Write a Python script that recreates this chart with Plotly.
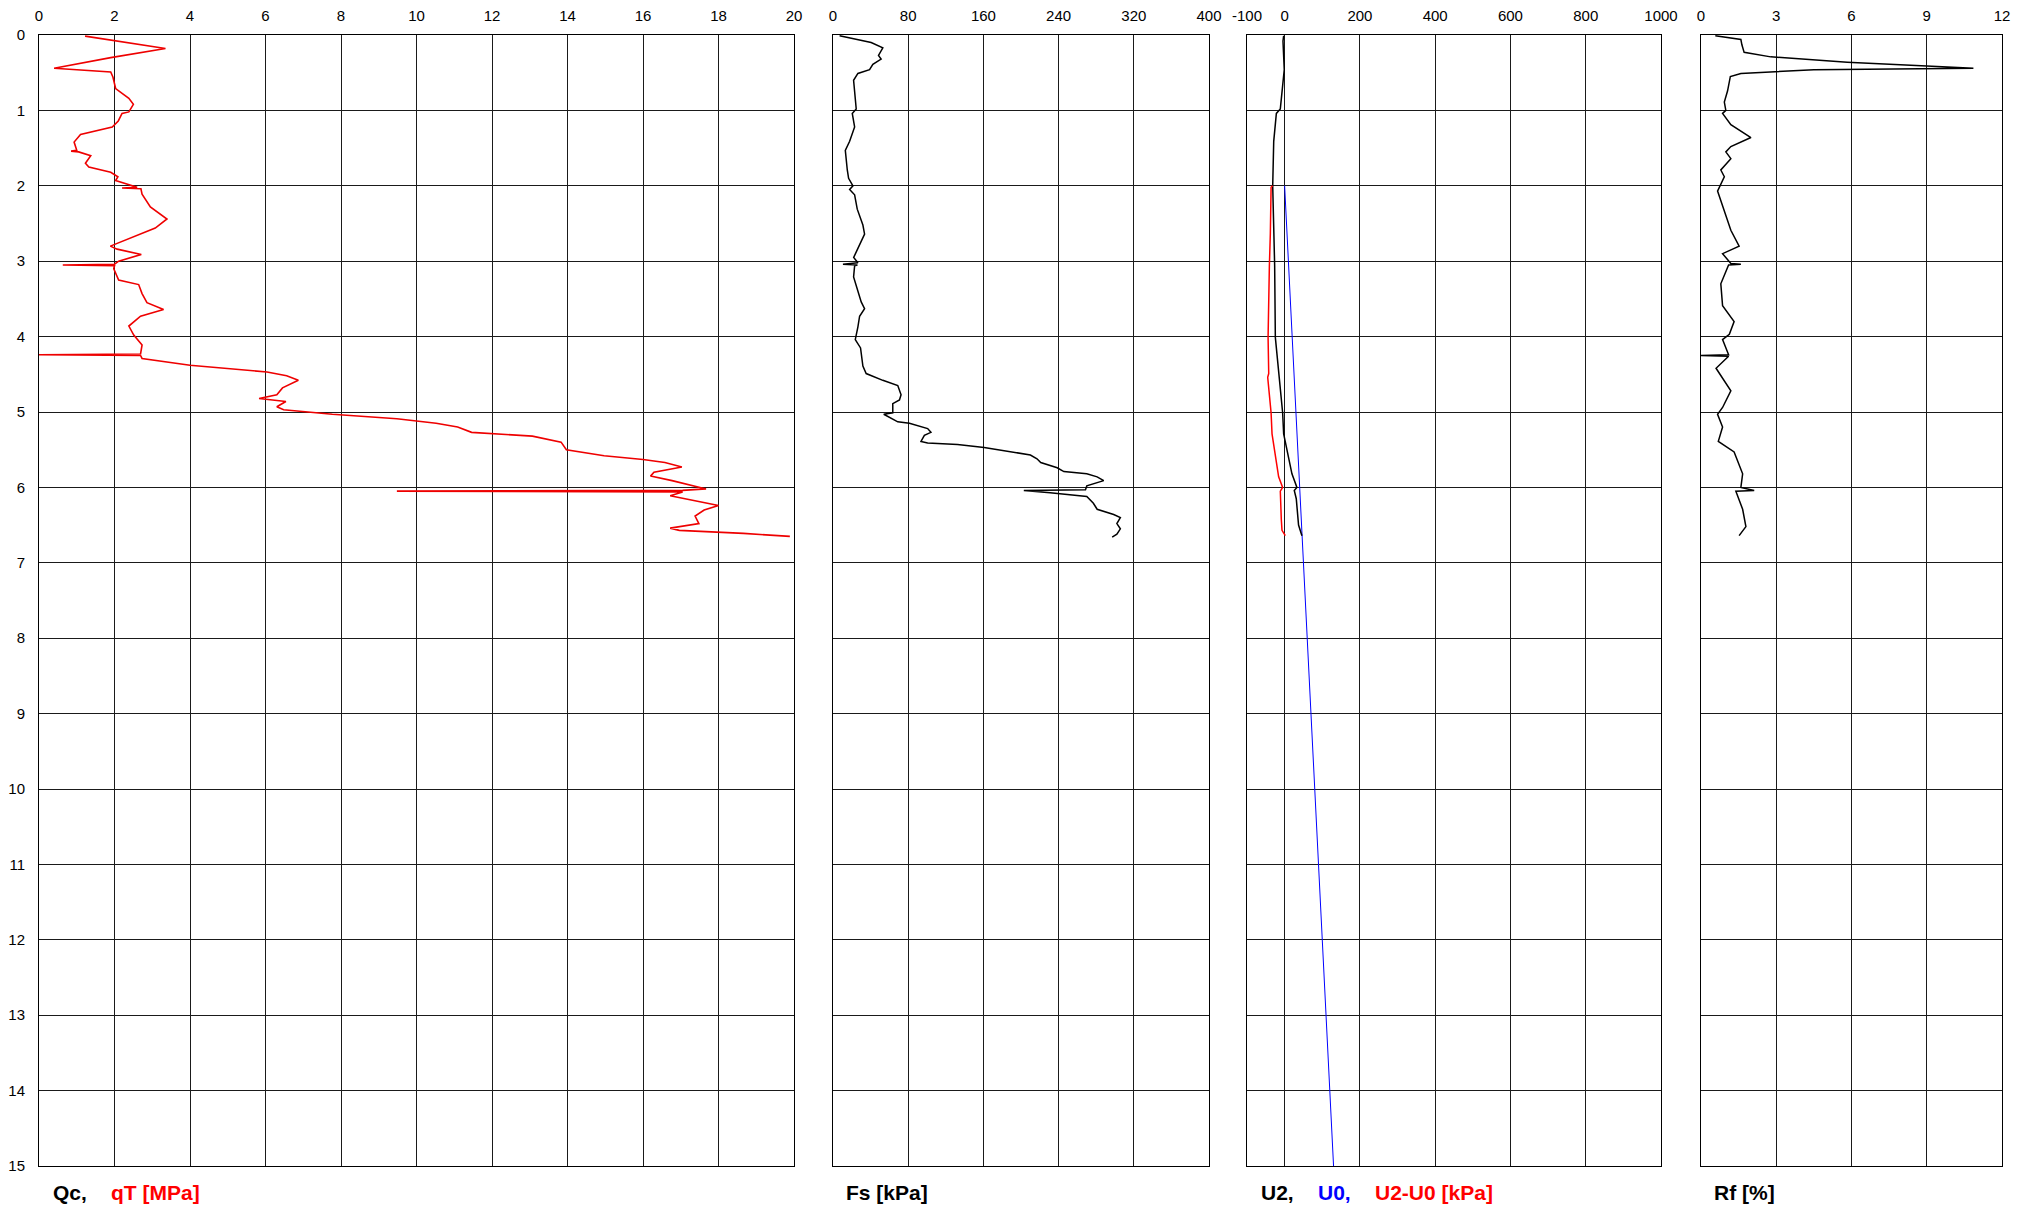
import plotly.graph_objects as go

# ---------------- data ----------------
# Cone resistance qT [MPa] vs depth [m]
qt_depth = [0.015, 0.18, 0.30, 0.44, 0.49, 0.56, 0.71, 0.84, 0.92, 1.02, 1.04, 1.14, 1.22, 1.32, 1.42,
            1.53, 1.54, 1.55, 1.60, 1.70, 1.75, 1.82, 1.88, 1.93, 2.02, 2.03, 2.04, 2.11, 2.28, 2.44, 2.56,
            2.64, 2.80, 2.84, 2.91, 3.00, 3.04, 3.05, 3.06, 3.10, 3.25, 3.31, 3.43, 3.55, 3.64, 3.73,
            3.86, 3.98, 4.11, 4.23, 4.24, 4.25, 4.29, 4.38, 4.47, 4.52, 4.58, 4.68, 4.77, 4.82, 4.86,
            4.93, 4.97, 5.03, 5.09, 5.15, 5.20, 5.27, 5.32, 5.40, 5.50, 5.58, 5.63, 5.67, 5.73, 5.80,
            5.85, 5.91, 6.02, 6.04, 6.05, 6.06, 6.11, 6.24, 6.30, 6.38, 6.48, 6.54, 6.57, 6.61, 6.65]
qt_value = [1.22, 3.35, 1.90, 0.40, 1.90, 1.96, 2.03, 2.38, 2.50, 2.38, 2.20, 2.10, 1.94, 1.10, 0.93,
            1.00, 0.85, 1.05, 1.37, 1.23, 1.32, 1.90, 2.09, 2.03, 2.60, 2.20, 2.70, 2.73, 2.95, 3.39, 3.08,
            2.69, 1.89, 2.07, 2.71, 2.11, 2.00, 0.63, 2.00, 1.98, 2.11, 2.64, 2.73, 2.86, 3.30, 2.69,
            2.38, 2.51, 2.73, 2.69, 0.00, 2.69, 2.73, 4.00, 6.04, 6.56, 6.87, 6.45, 6.30, 5.83, 6.54,
            6.30, 6.48, 7.77, 9.48, 10.52, 11.09, 11.46, 13.07, 13.83, 13.97, 14.97, 16.00, 16.58, 17.03, 16.29,
            16.20, 16.77, 17.67, 17.05, 9.48, 17.05, 16.72, 18.00, 17.62, 17.38, 17.48, 16.72, 16.96, 18.66, 19.89]

# Sleeve friction Fs [kPa]
fs_depth = [0.01, 0.10, 0.17, 0.22, 0.27, 0.32, 0.39, 0.46, 0.51, 0.60, 0.74, 0.98, 1.04, 1.22, 1.41,
            1.53, 1.79, 1.90, 2.00, 2.05, 2.12, 2.31, 2.52, 2.64, 2.83, 2.95, 3.02, 3.04, 3.05, 3.06,
            3.21, 3.40, 3.54, 3.63, 3.73, 3.87, 4.04, 4.15, 4.39, 4.49, 4.58, 4.65, 4.77, 4.84, 4.89,
            5.01, 5.03, 5.13, 5.15, 5.22, 5.27, 5.31, 5.39, 5.41, 5.43, 5.47, 5.54, 5.57, 5.62, 5.67,
            5.74, 5.79, 5.82, 5.86, 5.91, 5.98, 6.03, 6.04, 6.07, 6.12, 6.21, 6.29, 6.36, 6.40, 6.48,
            6.55, 6.62, 6.66]
fs_value = [7, 40.6, 53, 50.5, 48.4, 51.2, 42.4, 38.9, 26.5, 21.9, 23, 24.7, 20.5, 23, 17.7,
            13.1, 15.2, 16.6, 21.2, 17.7, 23, 25.8, 31.8, 33.6, 26.5, 22, 26.5, 10.6, 26, 23,
            21.9, 26.5, 30, 33.6, 28.3, 26.5, 23.7, 29.3, 31.8, 35.3, 53, 68.9, 72.4, 70.7, 63.6,
            63.6, 54, 68.9, 81.3, 100.7, 104.2, 97.2, 93.6, 100.7, 132.5, 160.8, 192.6, 210, 217, 221,
            238.5, 245.6, 270, 281, 288, 270, 268.6, 203, 231, 270, 277, 281, 298.6, 305.7, 302,
            305.7, 302, 297]

# Pore pressure U2 [kPa]
u2_depth = [0.01, 0.08, 0.46, 0.98, 1.04, 1.41, 2.00, 2.64, 3.06, 4.01, 4.49, 5.01, 5.29, 5.53,
            5.82, 6.00, 6.04, 6.15, 6.50, 6.64]
u2_value = [-2.6, -4.4, -1.0, -11.5, -22.0, -29.0, -31.7, -29.0, -26.5, -24.7, -15.9, -5.3, -2.6, 8.0,
            19.4, 32.6, 25.6, 30.9, 37.0, 45.9]

# Hydrostatic U0 [kPa]
u0_depth = [2.0, 15.0]
u0_value = [0.0, 130.0]

# Excess pore pressure U2-U0 [kPa]
du_depth = [2.00, 2.02, 2.64, 3.07, 4.01, 4.49, 4.54, 5.01, 5.29, 5.58, 5.86, 6.00, 6.05, 6.43, 6.57, 6.64]
du_value = [-32.0, -36.0, -38.0, -40.6, -44.0, -42.3, -45.0, -36.0, -33.5, -24.7, -15.9, -5.3, -11.5,
            -8.8, -7.0, 1.8]

# Friction ratio Rf [%]
rf_depth = [0.01, 0.06, 0.13, 0.23, 0.29, 0.36, 0.41, 0.44, 0.46, 0.51, 0.55, 0.74, 0.89, 1.00, 1.04,
            1.19, 1.36, 1.48, 1.55, 1.64, 1.79, 1.88, 2.07, 2.26, 2.59, 2.80, 2.90, 3.03, 3.04, 3.05,
            3.30, 3.59, 3.80, 3.97, 4.04, 4.24, 4.25, 4.26, 4.42, 4.72, 4.94, 5.03, 5.20, 5.39, 5.53,
            5.82, 6.00, 6.04, 6.05, 6.29, 6.52, 6.64]
rf_value = [0.57, 1.59, 1.63, 1.72, 2.78, 5.83, 9.0, 10.86, 4.5, 1.59, 1.17, 1.06, 0.93, 0.99, 0.86,
            1.19, 1.99, 1.19, 0.99, 1.19, 0.79, 0.93, 0.66, 0.86, 1.19, 1.52, 0.86, 1.19, 1.59, 1.10,
            0.79, 0.86, 1.32, 1.13, 0.86, 1.10, 0.0, 1.10, 0.60, 1.19, 0.86, 0.66, 0.86, 0.69, 1.32,
            1.66, 1.59, 2.12, 1.39, 1.66, 1.79, 1.52]

depth_ticks = list(range(0, 16))
qc_ticks = [0, 2, 4, 6, 8, 10, 12, 14, 16, 18, 20]
fs_ticks = [0, 80, 160, 240, 320, 400]
u_ticks = [-100, 0, 200, 400, 600, 800, 1000]
rf_ticks = [0, 3, 6, 9, 12]

# ---------------- figure ----------------
# The page body has an 8 px default margin, so the figure is offset by 8 px.
OFF = 8
W, H = 2037 - OFF, 1207 - OFF
ML, MR, MT, MB = 39 - OFF, 35, 35 - OFF, 41
PW = W - ML - MR
PH = H - MT - MB


def px_to_paper_x(px):
    return (px - OFF - ML) / PW


def px_to_paper_y(py):
    return 1 - (py - OFF - MT) / PH


FONT = "Liberation Sans, Arial, Helvetica, sans-serif"

fig = go.Figure()

fig.add_trace(go.Scatter(x=qt_value, y=qt_depth, mode="lines", line=dict(color="#ee0000", width=1.6),
                         xaxis="x", yaxis="y", name="qT"))
fig.add_trace(go.Scatter(x=fs_value, y=fs_depth, mode="lines", line=dict(color="black", width=1.5),
                         xaxis="x2", yaxis="y2", name="Fs"))
fig.add_trace(go.Scatter(x=u0_value, y=u0_depth, mode="lines", line=dict(color="#0000ff", width=1),
                         xaxis="x3", yaxis="y3", name="U0"))
fig.add_trace(go.Scatter(x=u2_value, y=u2_depth, mode="lines", line=dict(color="black", width=1.5),
                         xaxis="x3", yaxis="y3", name="U2"))
fig.add_trace(go.Scatter(x=du_value, y=du_depth, mode="lines", line=dict(color="#ff0000", width=1.5),
                         xaxis="x3", yaxis="y3", name="U2-U0"))
fig.add_trace(go.Scatter(x=rf_value, y=rf_depth, mode="lines", line=dict(color="black", width=1.5),
                         xaxis="x4", yaxis="y4", name="Rf"))

domains = [
    [0.0, px_to_paper_x(794)],
    [px_to_paper_x(833), px_to_paper_x(1209)],
    [px_to_paper_x(1247), px_to_paper_x(1661)],
    [px_to_paper_x(1701), 1.0],
]
ranges = [[0, 20], [0, 400], [-100, 1000], [0, 12]]
ticks = [qc_ticks, fs_ticks, u_ticks, rf_ticks]

common_x = dict(side="top", showgrid=True, gridcolor="#1a1a1a", gridwidth=1, showline=True,
                linecolor="black", linewidth=1, mirror=True, zeroline=False, ticks="",
                automargin=False,
                tickfont=dict(family=FONT, size=15, color="black"), ticklabelstandoff=7)
common_y = dict(range=[15, 0], showgrid=True, gridcolor="#1a1a1a", gridwidth=1, showline=True,
                linecolor="black", linewidth=1, mirror=True, zeroline=False, ticks="",
                automargin=False,
                tickvals=depth_ticks, domain=[0, 1],
                tickfont=dict(family=FONT, size=15, color="black"), ticklabelstandoff=10)

layout = dict(width=W, height=H, margin=dict(l=ML, r=MR, t=MT, b=MB), showlegend=False,
              plot_bgcolor="white", paper_bgcolor="white")
for i in range(4):
    sfx = "" if i == 0 else str(i + 1)
    xa = dict(common_x)
    xa.update(domain=domains[i], range=ranges[i], tickvals=ticks[i],
              ticktext=[str(t) for t in ticks[i]], anchor="y" + sfx)
    ya = dict(common_y)
    ya.update(anchor="x" + sfx, showticklabels=(i == 0))
    layout["xaxis" + sfx] = xa
    layout["yaxis" + sfx] = ya

fig.update_layout(**layout)

label_y = px_to_paper_y(1192.5)
labels = [
    ("Qc,", 51, "black"),
    ("qT [MPa]", 109, "#ff0000"),
    ("Fs [kPa]", 844, "black"),
    ("U2,", 1259, "black"),
    ("U0,", 1316, "#0000ff"),
    ("U2-U0 [kPa]", 1373, "#ff0000"),
    ("Rf [%]", 1712, "black"),
]
for txt, px, col in labels:
    fig.add_annotation(text="<b>" + txt + "</b>", x=px_to_paper_x(px), y=label_y, xref="paper", yref="paper",
                       xanchor="left", yanchor="middle", showarrow=False,
                       font=dict(family=FONT, size=21, color=col))

fig.add_annotation(text="Page 1/1", x=px_to_paper_x(50), y=px_to_paper_y(-6), xref="paper", yref="paper",
                   xanchor="left", yanchor="middle", showarrow=False,
                   font=dict(family=FONT, size=20, color="black"))

fig.write_html("out.html")
